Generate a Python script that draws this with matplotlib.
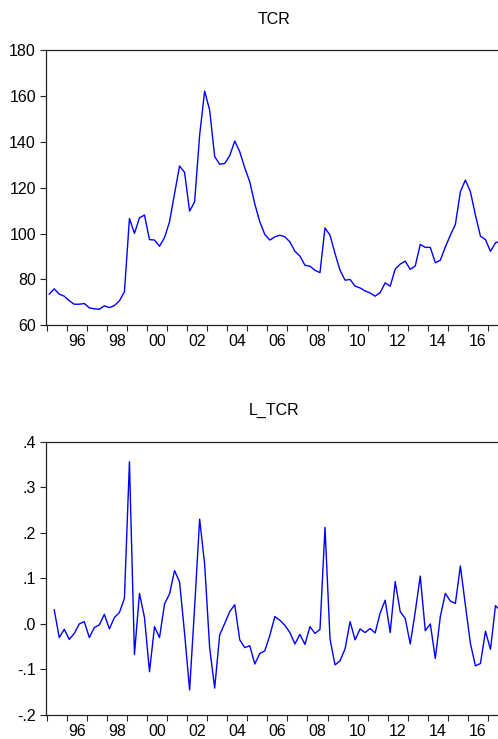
import matplotlib
matplotlib.use("Agg")
import matplotlib.pyplot as plt
import numpy as np

plt.rcParams['font.family'] = ['Liberation Sans', 'DejaVu Sans']

# quarterly series, 1995Q1 onwards
start_year = 1995
tcr = [73.6, 75.9, 73.6, 72.7, 70.7, 69.2, 69.2, 69.5, 67.6, 67.2,
       67.0, 68.5, 67.7, 68.6, 70.7, 74.6, 106.6, 100.1, 106.9, 108.1,
       97.4, 97.2, 94.5, 98.3, 105.2, 117.5, 129.5, 126.7, 109.8, 113.9,
       143.0, 162.2, 153.9, 133.6, 130.3, 130.6, 134.0, 140.4, 135.7, 128.7,
       122.6, 112.9, 105.2, 99.6, 97.2, 98.6, 99.3, 98.6, 96.4, 92.3,
       90.2, 86.2, 85.8, 84.0, 83.0, 102.5, 99.3, 91.3, 84.0, 79.7,
       80.0, 77.1, 76.3, 75.0, 74.1, 72.7, 74.3, 78.5, 77.1, 84.5,
       86.7, 88.0, 84.4, 85.9, 95.3, 94.0, 94.0, 87.3, 88.4, 94.2,
       99.3, 104.0, 118.3, 123.4, 118.3, 108.1, 98.9, 97.4, 92.3, 96.0,
       96.7]

# log change, first value is 1995Q2
l_tcr = [0.031, -0.030, -0.012, -0.034, -0.021, 0.000, 0.005, -0.030, -0.008,
         -0.002, 0.021, -0.011, 0.014, 0.025, 0.056, 0.356, -0.067, 0.067, 0.014,
         -0.105, -0.006, -0.030, 0.044, 0.066, 0.117, 0.092, -0.021, -0.145, 0.037,
         0.230, 0.131, -0.053, -0.141, -0.024, 0.001, 0.027, 0.042, -0.035, -0.052,
         -0.048, -0.088, -0.065, -0.059, -0.025, 0.016, 0.008, -0.003, -0.019, -0.044,
         -0.023, -0.045, -0.006, -0.021, -0.012, 0.212, -0.033, -0.090, -0.081, -0.055,
         0.005, -0.035, -0.011, -0.019, -0.010, -0.020, 0.024, 0.052, -0.019, 0.093,
         0.027, 0.012, -0.044, 0.027, 0.105, -0.015, 0.000, -0.076, 0.016, 0.067,
         0.050, 0.045, 0.127, 0.041, -0.043, -0.092, -0.087, -0.016, -0.056, 0.040,
         0.029]

top_yticks = [60, 80, 100, 120, 140, 160, 180]
bot_yticks = [-0.2, -0.1, 0.0, 0.1, 0.2, 0.3, 0.4]
bot_ylabels = ['-.2', '-.1', '.0', '.1', '.2', '.3', '.4']

x_tcr = start_year + 0.125 + 0.25 * np.arange(len(tcr))
x_l = start_year + 0.375 + 0.25 * np.arange(len(l_tcr))

W, H = 498, 739
fig = plt.figure(figsize=(W / 100, H / 100), dpi=100)

def make_axes(top_px, bottom_px):
    left, right = 45.7, 502.0
    return fig.add_axes([left / W, 1 - bottom_px / H,
                         (right - left) / W, (bottom_px - top_px) / H])

def style(ax, title):
    ax.set_xlim(1994.95, 2017.70)
    years = np.arange(1995, 2018)
    ax.set_xticks(years)
    ax.set_xticklabels([])
    centers = np.arange(1996, 2017, 2) + 0.5
    ax.set_xticks(centers, minor=True)
    ax.set_xticklabels(['%02d' % (int(c) % 100) for c in centers], minor=True)
    ax.tick_params(axis='x', which='major', direction='out', length=4.5,
                   width=0.8, color='#222222')
    ax.tick_params(axis='x', which='minor', length=0, pad=6.5, labelsize=11.5)
    ax.tick_params(axis='y', direction='out', length=4.5, width=0.8,
                   color='#222222', pad=2.5, labelsize=11.5)
    for s in ['top', 'left', 'bottom']:
        ax.spines[s].set_linewidth(0.9)
        ax.spines[s].set_color('#222222')
    ax.spines['right'].set_visible(False)
    ax.set_title(title, fontsize=11.5, pad=19)

ax1 = make_axes(50.3, 325.3)
ax1.plot(x_tcr, tcr, color='#0000ff', lw=1.0)
ax1.set_ylim(60, 180)
ax1.set_yticks(top_yticks)
ax1.set_yticklabels([str(v) for v in top_yticks])
style(ax1, 'TCR')

ax2 = make_axes(441.7, 715.0)
ax2.plot(x_l, l_tcr, color='#0000ff', lw=1.0)
ax2.set_ylim(-0.2, 0.4)
ax2.set_yticks(bot_yticks)
ax2.set_yticklabels(bot_ylabels)
style(ax2, 'L_TCR')

fig.savefig('out.png', dpi=100)
